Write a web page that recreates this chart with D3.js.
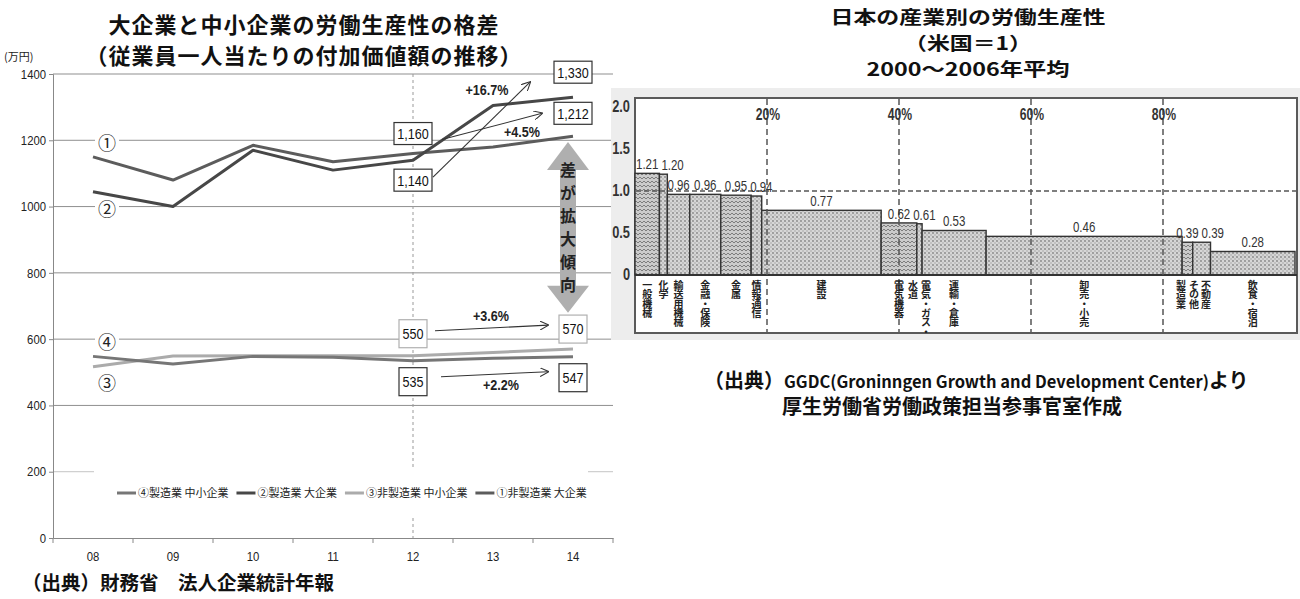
<!DOCTYPE html>
<html>
<head>
<meta charset="utf-8">
<script src="https://cdn.jsdelivr.net/npm/d3@7"></script>
<style>
  body { margin: 0; background: #fff; }
  svg { display: block; }
  .jp { font-family: "Noto Sans CJK JP", "Noto Sans", sans-serif; }
  .num { font-family: "Liberation Sans Narrow", "Liberation Sans", Arial, sans-serif; }
</style>
</head>
<body>
<svg id="chart" width="1300" height="599"></svg>
<script>
// left chart: value added per employee (万円)
const years = ['08', '09', '10', '11', '12', '13', '14'];
const nonMfgLarge = [1150, 1080, 1185, 1135, 1160, 1180, 1212]; // ①
const mfgLarge    = [1045, 1000, 1170, 1110, 1140, 1305, 1330]; // ②
const nonMfgSme   = [517, 549, 550, 550, 550, 560, 570];        // ③
const mfgSme      = [548, 525, 548, 545, 535, 542, 547];        // ④
const yTicks = [0, 200, 400, 600, 800, 1000, 1200, 1400];
const legendNames = ['④製造業 中小企業', '②製造業 大企業', '③非製造業 中小企業', '①非製造業 大企業'];

// right chart: productivity vs US by industry, width = share
const industries = ['一般機械', '化学', '輸送用機械', '金融・保険', '金属', '情報通信', '建設',
  '電気機器', '電気・ガス・|水道', '運輸・倉庫', '卸売・小売', 'その他|製造業', '不動産', '飲食・宿泊'];
const productivity = [1.21, 1.20, 0.96, 0.96, 0.95, 0.94, 0.77, 0.62, 0.61, 0.53, 0.46, 0.39, 0.39, 0.28];
const employmentShare = [3.7, 1.2, 3.4, 4.7, 4.6, 1.6, 18.1, 5.4, 0.8, 9.7, 29.7, 1.6, 2.7, 12.8];
const shareTicks = [20, 40, 60, 80];
const ratioTicks = [0, 0.5, 1.0, 1.5, 2.0];

const svg = d3.select('#chart');
const defs = svg.append('defs');

// squeeze numbers a bit, the source uses a narrow face
function condense(sel, k) {
  sel.each(function () {
    const w = this.getComputedTextLength();
    d3.select(this).attr('textLength', w * k).attr('lengthAdjust', 'spacingAndGlyphs');
  });
}

defs.append('marker').attr('id', 'arr')
  .attr('viewBox', '0 0 10 10').attr('refX', 9).attr('refY', 5)
  .attr('markerWidth', 9).attr('markerHeight', 9)
  .attr('markerUnits', 'userSpaceOnUse').attr('orient', 'auto')
  .append('path').attr('d', 'M0,0 L10,5 L0,10')
  .attr('fill', 'none').attr('stroke', '#333').attr('stroke-width', 1.2);

const pDots = defs.append('pattern').attr('id', 'dots')
  .attr('width', 4).attr('height', 4).attr('patternUnits', 'userSpaceOnUse');
pDots.append('rect').attr('width', 4).attr('height', 4).attr('fill', '#d6d6d6');
pDots.append('circle').attr('cx', 1).attr('cy', 1).attr('r', 0.9).attr('fill', '#858585');
pDots.append('circle').attr('cx', 3).attr('cy', 3).attr('r', 0.8).attr('fill', '#a5a5a5');

const pWeave = defs.append('pattern').attr('id', 'weave')
  .attr('width', 4).attr('height', 4).attr('patternUnits', 'userSpaceOnUse');
pWeave.append('rect').attr('width', 4).attr('height', 4).attr('fill', '#cbcbcb');
pWeave.append('path').attr('d', 'M0,1 L2,3 L4,1').attr('fill', 'none')
  .attr('stroke', '#747474').attr('stroke-width', 0.9);

// ---------------- left chart ----------------
const x = d3.scaleBand().domain(years).range([53, 613]);
const cx = d => x(d) + x.bandwidth() / 2;
const y = d3.scaleLinear().domain([0, 1400]).range([538, 74]);
const left = svg.append('g');

const lt = left.append('text').attr('class', 'jp').attr('text-anchor', 'middle')
  .attr('font-size', 22).attr('font-weight', 700).attr('letter-spacing', 1).attr('fill', '#111');
lt.append('tspan').attr('x', 304).attr('y', 33).text('大企業と中小企業の労働生産性の格差');
lt.append('tspan').attr('x', 304).attr('y', 64).text('（従業員一人当たりの付加価値額の推移）');
left.append('text').attr('class', 'jp').attr('x', 4).attr('y', 61)
  .attr('font-size', 11).attr('fill', '#222').text('(万円)');

// gridlines
left.append('g').selectAll('line').data(yTicks.filter(d => d > 0)).join('line')
  .attr('x1', 53).attr('x2', 613)
  .attr('y1', d => y(d)).attr('y2', d => y(d))
  .attr('stroke', d => d === 200 ? '#c4c4c4' : '#8f8f8f');

left.append('line')
  .attr('x1', cx('12')).attr('x2', cx('12'))
  .attr('y1', y(1400)).attr('y2', y(0))
  .attr('stroke', '#999').attr('stroke-dasharray', '3,3');

const yAxis = left.append('g').attr('transform', 'translate(53,0)')
  .call(d3.axisLeft(y).tickValues(yTicks).tickSize(4).tickFormat(d3.format('d')));
yAxis.attr('font-family', null).attr('font-size', null);
yAxis.select('.domain').attr('stroke', '#888');
yAxis.selectAll('.tick line').attr('stroke', '#888');
yAxis.selectAll('text').attr('class', 'num').attr('font-size', 13).attr('fill', '#222');
condense(yAxis.selectAll('text'), 0.87);

const xAxis = left.append('g').attr('transform', `translate(0,${y(0)})`)
  .call(d3.axisBottom(x).tickSize(0).tickPadding(14));
xAxis.attr('font-family', null).attr('font-size', null);
xAxis.select('.domain').attr('stroke', '#888');
xAxis.selectAll('text').attr('class', 'num').attr('font-size', 13).attr('fill', '#222');
condense(xAxis.selectAll('text'), 0.87);
left.append('g').selectAll('line')
  .data(years.map(d => x(d)).concat([x.range()[1]])).join('line')
  .attr('x1', d => d).attr('x2', d => d)
  .attr('y1', y(0)).attr('y2', y(0) + 5).attr('stroke', '#888');

const series = [
  { name: legendNames[0], values: mfgSme, color: '#767676' },
  { name: legendNames[1], values: mfgLarge, color: '#474747' },
  { name: legendNames[2], values: nonMfgSme, color: '#ababab' },
  { name: legendNames[3], values: nonMfgLarge, color: '#5c5c5c' }
];
const line = d3.line().x((d, i) => cx(years[i])).y(d => y(d));
left.append('g').selectAll('path')
  .data([series[2], series[0], series[3], series[1]]).join('path')
  .attr('d', d => line(d.values))
  .attr('fill', 'none').attr('stroke', d => d.color)
  .attr('stroke-width', 3).attr('stroke-linejoin', 'round');

// legend
left.append('rect').attr('x', 94).attr('y', 467).attr('width', 494).attr('height', 50).attr('fill', '#fff');
let lx = 117;
series.forEach(s => {
  left.append('line').attr('x1', lx).attr('x2', lx + 19).attr('y1', 493).attr('y2', 493)
    .attr('stroke', s.color).attr('stroke-width', 3);
  const t = left.append('text').attr('class', 'jp').attr('x', lx + 21).attr('y', 497)
    .attr('font-size', 11).attr('fill', '#222').text(s.name);
  lx += 21 + t.node().getComputedTextLength() + 8;
});

// circled series markers
const markers = [{ t: '①', v: 1200 }, { t: '②', v: 1000 }, { t: '④', v: 600 }, { t: '③', v: 475 }];
const mk = left.append('g').selectAll('g').data(markers).join('g')
  .attr('transform', d => `translate(${cx('08') + 14},${y(d.v) + 3})`);
mk.append('rect').attr('x', -12).attr('y', -10).attr('width', 24).attr('height', 20).attr('fill', '#fff');
mk.append('text').attr('class', 'jp').attr('text-anchor', 'middle').attr('dy', '0.36em')
  .attr('font-size', 18).attr('fill', '#222').text(d => d.t);

// gap arrow
const ax = cx('14') - 5, aTop = y(1195), aBot = y(680);
left.append('polygon').attr('fill', '#afafaf').attr('points', [
  [ax, aTop], [ax + 21, aTop + 28], [ax + 8, aTop + 28], [ax + 8, aBot - 27], [ax + 21, aBot - 27],
  [ax, aBot], [ax - 21, aBot - 27], [ax - 8, aBot - 27], [ax - 8, aTop + 28], [ax - 21, aTop + 28]
].map(p => p.join(',')).join(' '));
left.append('text').attr('class', 'jp').attr('x', ax).attr('y', aTop + 20)
  .style('writing-mode', 'vertical-rl')
  .attr('font-size', 16).attr('font-weight', 700).attr('letter-spacing', 7)
  .attr('fill', '#222').text('差が拡大傾向');

// value boxes
const X12 = cx('12'), X14 = cx('14');
const boxes = [
  { x: X12, y: y(1160) - 20, w: 38, h: 22, t: '1,160', c: '#333' },
  { x: X12, y: y(1140) + 20, w: 38, h: 22, t: '1,140', c: '#333' },
  { x: X14, y: y(1330) - 25, w: 38, h: 22, t: '1,330', c: '#333' },
  { x: X14, y: y(1212) - 23, w: 38, h: 22, t: '1,212', c: '#333' },
  { x: X12, y: y(550) - 22, w: 28, h: 28, t: '550', c: '#b0b0b0' },
  { x: X12, y: y(535) + 21, w: 28, h: 28, t: '535', c: '#333' },
  { x: X14, y: y(570) - 20, w: 28, h: 28, t: '570', c: '#b0b0b0' },
  { x: X14, y: y(547) + 21, w: 28, h: 28, t: '547', c: '#333' }
];
const bx = left.append('g').selectAll('g').data(boxes).join('g')
  .attr('transform', d => `translate(${d.x},${d.y})`);
bx.append('rect').attr('x', d => -d.w / 2).attr('y', d => -d.h / 2)
  .attr('width', d => d.w).attr('height', d => d.h)
  .attr('fill', '#fff').attr('stroke', d => d.c).attr('stroke-width', 1.2);
const bt = bx.append('text').attr('class', 'num').attr('text-anchor', 'middle').attr('dy', '0.36em')
  .attr('font-size', 15).attr('fill', '#111').text(d => d.t);
condense(bt, 0.84);

const arrows = [
  { x1: X12 + 20, y1: y(1140) + 17, x2: X14 - 43, y2: y(1330) - 15, t: '+16.7%', tx: X12 + 74, ty: y(1330) - 8 },
  { x1: X12 + 29, y1: y(1160) - 14, x2: X14 - 31, y2: y(1212) - 23, t: '+4.5%', tx: X14 - 51, ty: y(1212) - 5 },
  { x1: X12 + 22, y1: y(550) - 25, x2: X14 - 25, y2: y(570) - 24, t: '+3.6%', tx: X12 + 78, ty: y(570) - 33 },
  { x1: X12 + 28, y1: y(535) + 16, x2: X14 - 25, y2: y(547) + 15, t: '+2.2%', tx: X12 + 88, ty: y(535) + 24 }
];
left.append('g').selectAll('line').data(arrows).join('line')
  .attr('x1', d => d.x1).attr('y1', d => d.y1).attr('x2', d => d.x2).attr('y2', d => d.y2)
  .attr('stroke', '#333').attr('stroke-width', 1.1).attr('marker-end', 'url(#arr)');
const at = left.append('g').selectAll('text').data(arrows).join('text')
  .attr('class', 'num').attr('x', d => d.tx).attr('y', d => d.ty).attr('dy', '0.36em')
  .attr('text-anchor', 'middle').attr('font-size', 15).attr('font-weight', 700)
  .attr('fill', '#222').text(d => d.t);
condense(at, 0.84);

left.append('text').attr('class', 'jp').attr('x', 22).attr('y', 590)
  .attr('font-size', 19.5).attr('font-weight', 700).attr('fill', '#111')
  .text('（出典）財務省　法人企業統計年報');

// ---------------- right chart ----------------
const rx = d3.scaleLinear().domain([0, 100]).range([635, 1295]);
const ry = d3.scaleLinear().domain([0, 2.1]).range([275, 98.6]);
const right = svg.append('g');

// three tight title lines: measure at 22px, then draw smaller but just as wide
[['日本の産業別の労働生産性', 23.8], ['（米国＝1）', 50], ['2000〜2006年平均', 76.2]].forEach(([t, yy]) => {
  const tt = right.append('text').attr('class', 'jp').attr('x', 968).attr('y', yy)
    .attr('text-anchor', 'middle').attr('font-size', 22).attr('font-weight', 700)
    .attr('letter-spacing', 1).attr('fill', '#111').text(t);
  const w = tt.node().getComputedTextLength();
  tt.attr('font-size', 18).attr('letter-spacing', null)
    .attr('textLength', w - 1).attr('lengthAdjust', 'spacingAndGlyphs');
});

right.append('rect').attr('x', 611).attr('y', 88).attr('width', 689).attr('height', 252).attr('fill', '#ededed');
right.append('rect').attr('x', 635).attr('y', 98).attr('width', rx(100) + 2 - 635).attr('height', 235)
  .attr('fill', '#fff').attr('stroke', '#5a5a5a').attr('stroke-width', 2);

const rt = right.append('g').selectAll('text').data(ratioTicks).join('text')
  .attr('class', 'num').attr('x', 630).attr('y', d => ry(d) + 5)
  .attr('text-anchor', 'end').attr('font-size', 16).attr('font-weight', 700)
  .attr('fill', '#333').text(d => d === 0 ? '0' : d.toFixed(1));
condense(rt, 0.8);

let acc = 0;
const bars = industries.map((label, i) => {
  const b = { label, v: productivity[i], x0: acc, x1: acc + employmentShare[i] };
  acc += employmentShare[i];
  return b;
});
const dense = new Set(['一般機械', '金属', '電気機器', 'その他|製造業']);

right.append('g').selectAll('rect').data(bars).join('rect')
  .attr('x', d => rx(d.x0)).attr('width', d => rx(d.x1) - rx(d.x0))
  .attr('y', d => ry(d.v)).attr('height', d => ry(0) - ry(d.v))
  .attr('fill', d => dense.has(d.label) ? 'url(#weave)' : 'url(#dots)')
  .attr('stroke', '#333').attr('stroke-width', 1.4);
right.append('line').attr('x1', 635).attr('x2', rx(100) + 2).attr('y1', ry(0)).attr('y2', ry(0))
  .attr('stroke', '#333').attr('stroke-width', 2);

// reference lines
right.append('line').attr('x1', 636).attr('x2', rx(100) + 1).attr('y1', ry(1)).attr('y2', ry(1))
  .attr('stroke', '#555').attr('stroke-width', 1.5).attr('stroke-dasharray', '5,3');
right.append('g').selectAll('line').data(shareTicks).join('line')
  .attr('x1', d => rx(d)).attr('x2', d => rx(d)).attr('y1', 99).attr('y2', 332)
  .attr('stroke', '#555').attr('stroke-width', 1.5).attr('stroke-dasharray', '6,4');
const pt = right.append('g').selectAll('text').data(shareTicks).join('text')
  .attr('class', 'num').attr('x', d => rx(d) + 1).attr('y', 120)
  .attr('text-anchor', 'middle').attr('font-size', 16).attr('font-weight', 700)
  .attr('fill', '#333').text(d => d + '%');
condense(pt, 0.76);

// value labels, nudged right when they collide with the previous one
const vl = right.append('g').selectAll('text').data(bars).join('text')
  .attr('class', 'num').attr('text-anchor', 'middle').attr('font-size', 14).attr('fill', '#333')
  .attr('x', d => (rx(d.x0) + rx(d.x1)) / 2).attr('y', d => ry(d.v) - 4)
  .text(d => d.v.toFixed(2));
condense(vl, 0.82);
let prev = null;
vl.each(function () {
  const w = +this.getAttribute('textLength');
  let px = +this.getAttribute('x');
  const py = +this.getAttribute('y');
  if (prev && Math.abs(prev.y - py) < 13 && px - w / 2 < prev.right + 3) {
    px = prev.right + 3 + w / 2;
    this.setAttribute('x', px);
  }
  prev = { right: px + w / 2, y: py };
});

// vertical category labels
const colGap = 13;
let lastCol = -Infinity;
const labelCols = [];
bars.forEach(b => {
  const cols = b.label.split('|');
  const n = cols.length;
  let lft = (rx(b.x0) + rx(b.x1)) / 2 - (n - 1) * colGap / 2;
  if (lft < lastCol + 12) lft = lastCol + 12;
  cols.forEach((c, i) => labelCols.push({ text: c, x: lft + (n - 1 - i) * colGap }));
  lastCol = lft + (n - 1) * colGap;
});
right.append('g').selectAll('text').data(labelCols).join('text')
  .attr('class', 'jp').attr('x', d => d.x).attr('y', 280)
  .style('writing-mode', 'vertical-rl')
  .attr('font-size', 10).attr('font-weight', 700).attr('letter-spacing', -0.6)
  .attr('fill', '#222').text(d => d.text);

const src = right.append('text').attr('class', 'jp').attr('x', 704).attr('y', 388)
  .attr('font-size', 20).attr('font-weight', 700).attr('fill', '#111');
src.append('tspan').text('（出典）');
src.append('tspan').attr('font-size', 16.5).text('GGDC(Groninngen Growth and Development Center)');
src.append('tspan').text('より');
right.append('text').attr('class', 'jp').attr('x', 782).attr('y', 414)
  .attr('font-size', 20).attr('font-weight', 700).attr('fill', '#111')
  .text('厚生労働省労働政策担当参事官室作成');
</script>
</body>
</html>
